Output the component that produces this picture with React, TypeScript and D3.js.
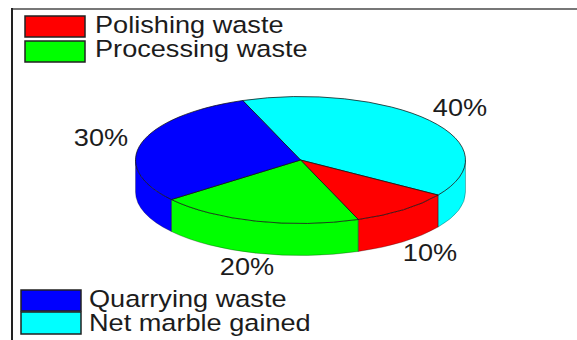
import React from "react";
import * as d3 from "d3";

// Shares of the quarried block, in drawing order clockwise from the back of the pie.
const categories = ["Net marble gained", "Polishing waste", "Processing waste", "Quarrying waste"];
const shares = [40, 10, 20, 30];
const sliceColors = ["#00ffff", "#ff0000", "#00ff00", "#0000ff"];
const percentLabels = ["40%", "10%", "20%", "30%"];

const WIDTH = 577;
const HEIGHT = 340;
const CX = 300.5;
const CY = 160;
const RX = 165;
const RY = 63.5;
const DEPTH = 32;
const START = (-20.5 * Math.PI) / 180;
const FONT = "Liberation Sans, Arial, sans-serif";
const FONT_SIZE = 23.5;
// The type is set wider than the regular face.
const TEXT_STRETCH = 1.155;

const INK = "#111";

type LegendRow = { name: string; x: number; y: number; h: number; textX: number; baseline: number };
const legendRows: LegendRow[] = [
  { name: "Polishing waste", x: 25, y: 16, h: 21, textX: 95, baseline: 33 },
  { name: "Processing waste", x: 25, y: 41, h: 21, textX: 95, baseline: 57 },
  { name: "Quarrying waste", x: 21, y: 290, h: 21, textX: 89, baseline: 307 },
  { name: "Net marble gained", x: 21, y: 312, h: 22, textX: 89, baseline: 331 },
];

const labelPositions = [
  { x: 460, y: 116 },
  { x: 430, y: 261 },
  { x: 247, y: 275 },
  { x: 101, y: 146 },
];

const px = (a: number) => CX + RX * Math.sin(a);
const py = (a: number) => CY - RY * Math.cos(a);

// Top face of one slice: centre, out along the rim, back to the centre.
function topPath(a0: number, a1: number) {
  const large = a1 - a0 > Math.PI ? 1 : 0;
  return `M${CX},${CY}L${px(a0)},${py(a0)}A${RX},${RY} 0 ${large} 1 ${px(a1)},${py(a1)}Z`;
}

// Outer wall of the part of a slice that faces the viewer.
function wallPath(a0: number, a1: number) {
  return (
    `M${px(a0)},${py(a0)}A${RX},${RY} 0 0 1 ${px(a1)},${py(a1)}` +
    `L${px(a1)},${py(a1) + DEPTH}A${RX},${RY} 0 0 0 ${px(a0)},${py(a0) + DEPTH}Z`
  );
}

// Horizontally stretched text whose left edge (or centre) stays on the given x.
function Stretched(props: { x: number; y: number; anchor?: "start" | "middle"; children: string }) {
  const { x, y, anchor = "start", children } = props;
  return (
    <text
      transform={`translate(${x},${y}) scale(${TEXT_STRETCH},1)`}
      textAnchor={anchor}
      fontSize={FONT_SIZE}
      fill="#1c1c1c"
    >
      {children}
    </text>
  );
}

export default function App() {
  const pie = d3
    .pie<number>()
    .sort(null)
    .startAngle(START)
    .endAngle(START + 2 * Math.PI);
  const arcs = pie(shares);

  const colorOf = d3.scaleOrdinal<string, string>().domain(categories).range(sliceColors);

  // The front of the cylinder spans a quarter turn either side of straight down.
  const frontStart = Math.PI / 2;
  const frontEnd = (3 * Math.PI) / 2;
  const walls = arcs.flatMap((d, i) => {
    const a0 = Math.max(d.startAngle, frontStart);
    const a1 = Math.min(d.endAngle, frontEnd);
    return a1 > a0 ? [{ i, a0, a1 }] : [];
  });

  return (
    <svg
      width={WIDTH}
      height={HEIGHT}
      viewBox={`0 0 ${WIDTH} ${HEIGHT}`}
      style={{ position: "absolute", left: 0, top: 0, background: "#fff" }}
      fontFamily={FONT}
    >
      <line x1={12} x2={WIDTH} y1={9} y2={9} stroke="#777" strokeWidth={2} />
      <line x1={12} x2={12} y1={8} y2={HEIGHT} stroke="#222" strokeWidth={2} />

      {walls.map(({ i, a0, a1 }) => (
        <path key={`wall-${i}`} d={wallPath(a0, a1)} fill={sliceColors[i]} />
      ))}
      {walls.map(({ i, a0, a1 }) => (
        <path
          key={`wall-line-${i}`}
          d={wallPath(a0, a1)}
          fill="none"
          stroke={INK}
          strokeWidth={1}
          strokeOpacity={0.3}
        />
      ))}
      {arcs.map((d, i) => (
        <path
          key={`top-${i}`}
          d={topPath(d.startAngle, d.endAngle)}
          fill={sliceColors[i]}
          stroke={INK}
          strokeWidth={1}
          strokeOpacity={0.75}
          strokeLinejoin="round"
        />
      ))}

      {percentLabels.map((t, i) => (
        <Stretched key={t} x={labelPositions[i].x} y={labelPositions[i].y} anchor="middle">
          {t}
        </Stretched>
      ))}

      {legendRows.map((r) => (
        <g key={r.name}>
          <rect
            x={r.x}
            y={r.y}
            width={60}
            height={r.h}
            fill={colorOf(r.name)}
            stroke="#222"
            strokeWidth={1.5}
          />
          <Stretched x={r.textX} y={r.baseline}>
            {r.name}
          </Stretched>
        </g>
      ))}
    </svg>
  );
}
